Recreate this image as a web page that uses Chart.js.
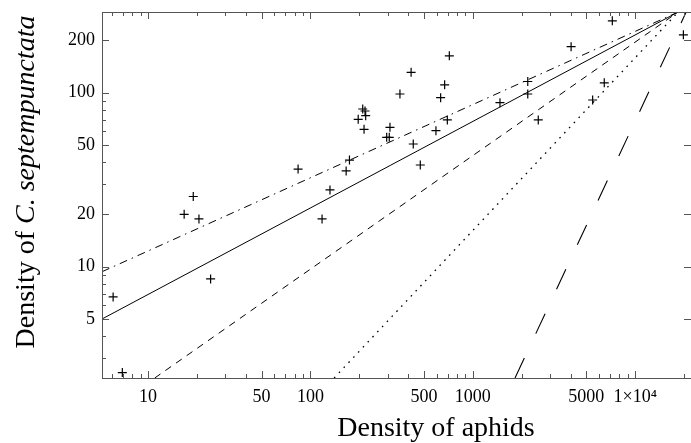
<!DOCTYPE html>
<html>
<head>
<meta charset="utf-8">
<script src="https://cdn.jsdelivr.net/npm/chart.js@4.4.0/dist/chart.umd.min.js"></script>
<style>
  html, body { margin: 0; padding: 0; background: #fff; }
  #wrap { width: 691px; height: 443px; }
</style>
</head>
<body>
<div id="wrap"><canvas id="c"></canvas></div>
<script>
// field counts: aphids vs C. septempunctata
const aphids = [6.1, 6.95, 16.7, 19.0, 20.6, 24.3, 84, 118, 132, 166, 174,
  197, 210, 217, 219, 214, 309, 306, 295, 356, 417, 430, 475,
  593, 634, 671, 697, 717, 1470, 2180, 2180, 2530, 4030, 5470, 6450, 7230, 19800];
const ladybirds = [6.7, 2.46, 20.0, 25.3, 18.8, 8.5, 36.4, 18.8, 27.6, 35.5, 41.0,
  70.3, 80.6, 78.5, 73.8, 61.6, 63.2, 55.4, 55.4, 98.3, 131, 50.7, 38.4,
  60.5, 93.6, 111, 69.7, 163, 87.6, 116, 98.3, 69.7, 184, 90.8, 114, 259, 215];

// fitted lines, end points
const solidX = [5.21, 18400],    solidY = [5.0, 291];
const dashDotX = [5.21, 18400],  dashDotY = [9.35, 291];
const dashedX = [11.0, 18400],   dashedY = [2.29, 291];
const dottedX = [140, 18400],    dottedY = [2.29, 291];
const longDashX = [1820, 20600], longDashY = [2.29, 291];

// axes
const xRange = [5.21, 22060];
const yRange = [2.29, 291];
const xTickValues = [10, 50, 100, 500, 1000, 5000, 10000];
const xTickLabels = ['10', '50', '100', '500', '1000', '5000', '1\u00d710\u2074'];
const xMinorTicks = [6, 7, 8, 9, 20, 30, 40, 60, 70, 80, 90, 200, 300, 400, 600, 700, 800, 900,
  2000, 3000, 4000, 6000, 7000, 8000, 9000, 20000];
const yTickValues = [5, 10, 20, 50, 100, 200];
const yTickLabels = ['5', '10', '20', '50', '100', '200'];
const yMinorTicks = [3, 4, 6, 7, 8, 9, 30, 40, 60, 70, 80, 90];

const pts = (xs, ys) => xs.map((x, i) => ({ x: x, y: ys[i] }));
const serif = '"Liberation Serif", "DejaVu Serif", serif';

function fitLine(xs, ys, dash, width) {
  return {
    data: pts(xs, ys), showLine: true, pointRadius: 0,
    borderColor: '#000', borderWidth: width || 1, borderDash: dash, fill: false
  };
}

// frame with inward ticks, and the axis titles
const framePlugin = {
  id: 'frame',
  afterDatasetsDraw(chart) {
    const { ctx, chartArea: a, scales } = chart;
    ctx.save();
    ctx.strokeStyle = '#555';
    ctx.lineWidth = 1;
    ctx.strokeRect(a.left + 0.5, a.top + 0.5, a.right - a.left, a.bottom - a.top);
    const xt = (v, len) => {
      const p = Math.round(scales.x.getPixelForValue(v)) + 0.5;
      ctx.moveTo(p, a.bottom); ctx.lineTo(p, a.bottom - len);
      ctx.moveTo(p, a.top); ctx.lineTo(p, a.top + len);
    };
    const yt = (v, len, both) => {
      const p = Math.round(scales.y.getPixelForValue(v)) + 0.5;
      ctx.moveTo(a.left, p); ctx.lineTo(a.left + len, p);
      if (both) { ctx.moveTo(a.right, p); ctx.lineTo(a.right - len, p); }
    };
    ctx.beginPath();
    xTickValues.forEach(v => xt(v, 7));
    xMinorTicks.forEach(v => xt(v, 4));
    yTickValues.forEach(v => yt(v, 7, true));
    yMinorTicks.forEach(v => yt(v, 4, false));
    ctx.stroke();
    ctx.restore();
  },
  afterDraw(chart) {
    const { ctx } = chart;
    ctx.save();
    ctx.fillStyle = '#000';
    ctx.textBaseline = 'alphabetic';
    // x title
    ctx.font = '28px ' + serif;
    ctx.textAlign = 'center';
    ctx.fillText('Density of aphids', 436, 436);
    // y title, mixed upright / italic
    const partA = 'Density of ', partB = 'C. septempunctata';
    ctx.font = '28px ' + serif;
    const wA = ctx.measureText(partA).width;
    ctx.font = 'italic 28px ' + serif;
    const wB = ctx.measureText(partB).width;
    ctx.translate(34, 182);
    ctx.rotate(-Math.PI / 2);
    ctx.textAlign = 'left';
    const start = -(wA + wB) / 2;
    ctx.font = '28px ' + serif;
    ctx.fillText(partA, start, 0);
    ctx.font = 'italic 28px ' + serif;
    ctx.fillText(partB, start + wA, 0);
    ctx.restore();
  }
};

new Chart(document.getElementById('c'), {
  type: 'scatter',
  data: {
    datasets: [
      {
        data: pts(aphids, ladybirds), pointStyle: 'cross', pointRadius: 4.5,
        borderColor: '#000', borderWidth: 1.2, backgroundColor: '#000'
      },
      fitLine(solidX, solidY, []),
      fitLine(dashDotX, dashDotY, [8, 5, 1.5, 5]),
      fitLine(dashedX, dashedY, [7, 6]),
      fitLine(dottedX, dottedY, [1.6, 5.4], 1.3),
      fitLine(longDashX, longDashY, [22, 27], 1.1)
    ]
  },
  options: {
    responsive: true,
    maintainAspectRatio: false,
    animation: false,
    layout: { autoPadding: false, padding: { top: 12, left: 0, right: 0, bottom: 0 } },
    plugins: { legend: { display: false }, tooltip: { enabled: false } },
    scales: {
      x: {
        type: 'logarithmic', min: xRange[0], max: xRange[1],
        grid: { display: false, drawTicks: false },
        border: { display: false },
        ticks: {
          autoSkip: false, maxRotation: 0, padding: 8, color: '#000',
          font: { family: serif, size: 18 },
          callback: (v, i) => xTickLabels[i]
        },
        afterBuildTicks: s => { s.ticks = xTickValues.map(v => ({ value: v })); },
        afterFit: s => { s.height = 65; s.paddingLeft = 0; s.paddingRight = 0; }
      },
      y: {
        type: 'logarithmic', min: yRange[0], max: yRange[1],
        grid: { display: false, drawTicks: false },
        border: { display: false },
        ticks: {
          autoSkip: false, padding: 7, color: '#000',
          font: { family: serif, size: 18 },
          callback: (v, i) => yTickLabels[i]
        },
        afterBuildTicks: s => { s.ticks = yTickValues.map(v => ({ value: v })); },
        afterFit: s => { s.width = 102; s.paddingTop = 0; s.paddingBottom = 0; }
      }
    }
  },
  plugins: [framePlugin]
});
</script>
</body>
</html>
